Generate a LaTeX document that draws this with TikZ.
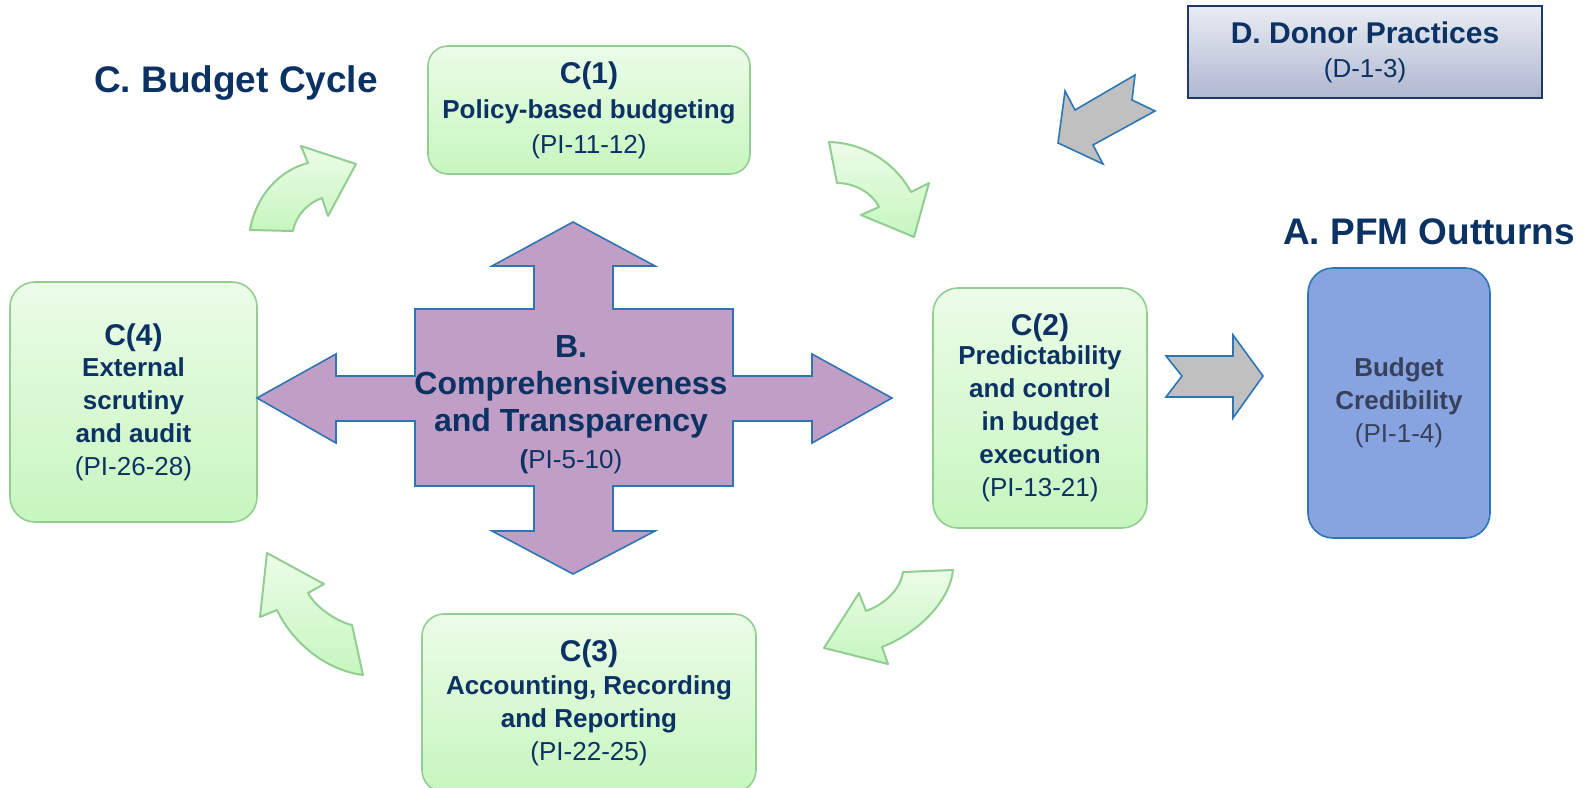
\documentclass[tikz,border=0pt]{standalone}
\usepackage{fontspec}
\setmainfont{Liberation Sans}
\usetikzlibrary{positioning}

\definecolor{navy}{RGB}{12,50,100}
\definecolor{cycletop}{RGB}{236,252,232}
\definecolor{cyclebot}{RGB}{198,246,190}
\definecolor{cycleline}{RGB}{146,205,146}
\definecolor{crossfill}{RGB}{193,158,197}
\definecolor{shapeline}{RGB}{46,117,182}
\definecolor{arrowgray}{RGB}{192,192,192}
\definecolor{outfill}{RGB}{135,163,224}
\definecolor{outtext}{RGB}{55,65,92}
\definecolor{donortop}{RGB}{233,236,244}
\definecolor{donorbot}{RGB}{176,184,208}
\definecolor{donorline}{RGB}{31,56,100}

\newcommand{\headsize}{\fontsize{15}{16.5}\selectfont}
\newcommand{\bodysize}{\fontsize{13}{16.5}\selectfont}

\begin{document}
\begin{tikzpicture}[
    x=0.5pt, y=-0.5pt,
    cyclebox/.style={draw=cycleline, line width=0.8pt, top color=cycletop, bottom color=cyclebot,
      inner sep=0pt, align=center, text=navy, font=\bfseries\bodysize},
    outbox/.style={draw=shapeline, line width=0.8pt, fill=outfill, rounded corners=12.5pt,
      inner sep=0pt, align=center, text=outtext, font=\bfseries\bodysize},
    donorbox/.style={draw=donorline, line width=1pt, top color=donortop, bottom color=donorbot,
      inner sep=0pt, align=center, text=navy},
    heading/.style={text=navy, font=\bfseries\fontsize{18.5}{20}\selectfont},
    bendarrow/.style={draw=cycleline, line width=1pt, line join=round, top color=cycletop, bottom color=cyclebot},
    grayarrow/.style={draw=shapeline, line width=0.8pt, fill=arrowgray},
    crossarrow/.style={draw=shapeline, line width=0.8pt, fill=crossfill}
  ]
    \useasboundingbox (0,0) rectangle (1589,787);

    % budget cycle boxes
    \node[cyclebox, rounded corners=10pt, minimum width=161pt, minimum height=64pt,
      font=\bfseries\fontsize{13}{17.5}\selectfont] (c1) at (589,110)
      {{\headsize C(1)}\\Policy-based budgeting\\\mdseries(PI-11-12)};
    \node[cyclebox, rounded corners=12.5pt, minimum width=107pt, minimum height=120pt] (c2) at (1040,408)
      {{\headsize C(2)}\\[-2pt]Predictability\\and control\\in budget\\execution\\\mdseries(PI-13-21)};
    \node[cyclebox, rounded corners=11pt, minimum width=167pt, minimum height=89pt] (c3) at (589,703)
      {{\headsize C(3)}\\Accounting, Recording\\and Reporting\\\mdseries(PI-22-25)};
    \node[cyclebox, rounded corners=12.5pt, minimum width=123.5pt, minimum height=120pt] (c4) at (133.5,402)
      {{\headsize C(4)}\\[-1pt]External\\scrutiny\\and audit\\\mdseries(PI-26-28)};

    % outturns and donor boxes
    \node[outbox, minimum width=91pt, minimum height=135pt] (credib) at (1399,403)
      {Budget\\Credibility\\\mdseries(PI-1-4)};
    \node[donorbox, minimum width=177pt, minimum height=46pt] (donor) at (1365,52)
      {\bfseries\headsize D. Donor Practices\\[5pt]\mdseries\fontsize{13}{14}\selectfont(D-1-3)};

    % headings
    \node[heading] (cycle) at (236,83) {C. Budget Cycle};
    \node[heading] (outturns) at (1429,232) {A. PFM Outturns};

    % comprehensiveness cross
    \draw[crossarrow] (573,222) -- (655,266) -- (613,266) -- (613,309) -- (733,309) -- (733,376)
      -- (812,376) -- (812,354) -- (892,398) -- (812,443) -- (812,421) -- (733,421) -- (733,486)
      -- (613,486) -- (613,531) -- (655,531) -- (573,574) -- (492,531) -- (534,531) -- (534,486)
      -- (415,486) -- (415,421) -- (336,421) -- (336,443) -- (257,398) -- (336,354) -- (336,376)
      -- (415,376) -- (415,309) -- (534,309) -- (534,266) -- (492,266) -- cycle;
    \node[align=center, text=navy, font=\bfseries\fontsize{16}{18.5}\selectfont] (transp) at (571,405)
      {B.\\Comprehensiveness\\and Transparency\\{\mdseries\fontsize{13}{18.5}\selectfont{\bfseries(}PI-5-10)}};

    % curved cycle arrows
    \draw[bendarrow] (250,230) -- (293,231) .. controls (296,215) and (308,203) .. (322,198)
      -- (328,216) -- (356,164) -- (301,146) -- (308,163) .. controls (280,170) and (256,195) .. cycle;
    \draw[bendarrow] (829,142) -- (837,183) .. controls (855,183) and (872,193) .. (879,207)
      -- (861,215) -- (914,237) -- (929,183) -- (911,192) .. controls (895,163) and (865,143) .. cycle;
    \draw[bendarrow] (903,572) -- (953,570) .. controls (950,600) and (920,632) .. (882,647)
      -- (888,664) -- (824,648) -- (859,593) -- (866,611) .. controls (885,604) and (900,590) .. cycle;
    \draw[bendarrow] (363,675) -- (352,625) .. controls (338,622) and (316,608) .. (308,593)
      -- (324,584) -- (267,553) -- (260,617) -- (277,610) .. controls (292,642) and (325,670) .. cycle;

    % notched gray arrows
    \draw[grayarrow] (1058,143) -- (1065,91) -- (1075,110) -- (1135,75) -- (1132,100) -- (1155,111)
      -- (1093,145) -- (1103,164) -- cycle;
    \draw[grayarrow] (1166,356) -- (1233,356) -- (1233,335) -- (1263,376) -- (1233,418) -- (1233,397)
      -- (1166,397) -- (1182,376) -- cycle;
\end{tikzpicture}
\end{document}
